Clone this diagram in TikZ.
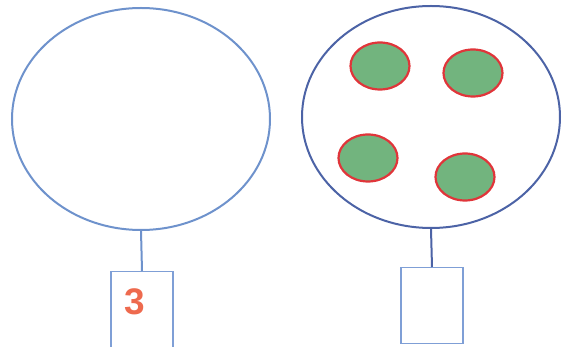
\documentclass[tikz,border=0pt]{standalone}
\usepackage{fontspec}
\setmainfont{Liberation Sans}
\usetikzlibrary{shapes.geometric}
\definecolor{bigL}{HTML}{6E92CC}
\definecolor{bigR}{HTML}{4C63A6}
\definecolor{boxc}{HTML}{7F9FD6}
\definecolor{dotfill}{HTML}{72B47E}
\definecolor{dotline}{HTML}{E0353A}
\definecolor{numc}{HTML}{EE6A4E}
\tikzset{
  bigell/.style={ellipse, draw, line width=2pt, minimum width=258pt, minimum height=222pt, inner sep=0pt},
  dot/.style={ellipse, draw=dotline, fill=dotfill, line width=2.2pt, minimum width=59pt, minimum height=47pt, inner sep=0pt},
  ansbox/.style={rectangle, draw=boxc, line width=1.2pt, minimum width=62pt, minimum height=76pt, inner sep=0pt, anchor=north},
  stem/.style={line width=2pt}
}
\begin{document}
\begin{tikzpicture}[x=1pt,y=-1pt]
\useasboundingbox (0,0) rectangle (563,347);
\node[bigell, draw=bigL] (L) at (141,119) {};
\node[bigell, draw=bigR] (R) at (431,117) {};
\node[ansbox] (bL) at (142,271) {};
\node[ansbox] (bR) at (432,267) {};
\node[text=numc, font=\bfseries\fontsize{37}{37}\selectfont] (n) at (135,302) {3};
\draw[stem, draw=bigL] (L.south) -- (bL.north);
\draw[stem, draw=bigR] (R.south) -- (bR.north);
\node[dot] (d1) at (380,66) {};
\node[dot] (d2) at (473,73) {};
\node[dot] (d3) at (368,158) {};
\node[dot] (d4) at (465,177) {};
\end{tikzpicture}
\end{document}
